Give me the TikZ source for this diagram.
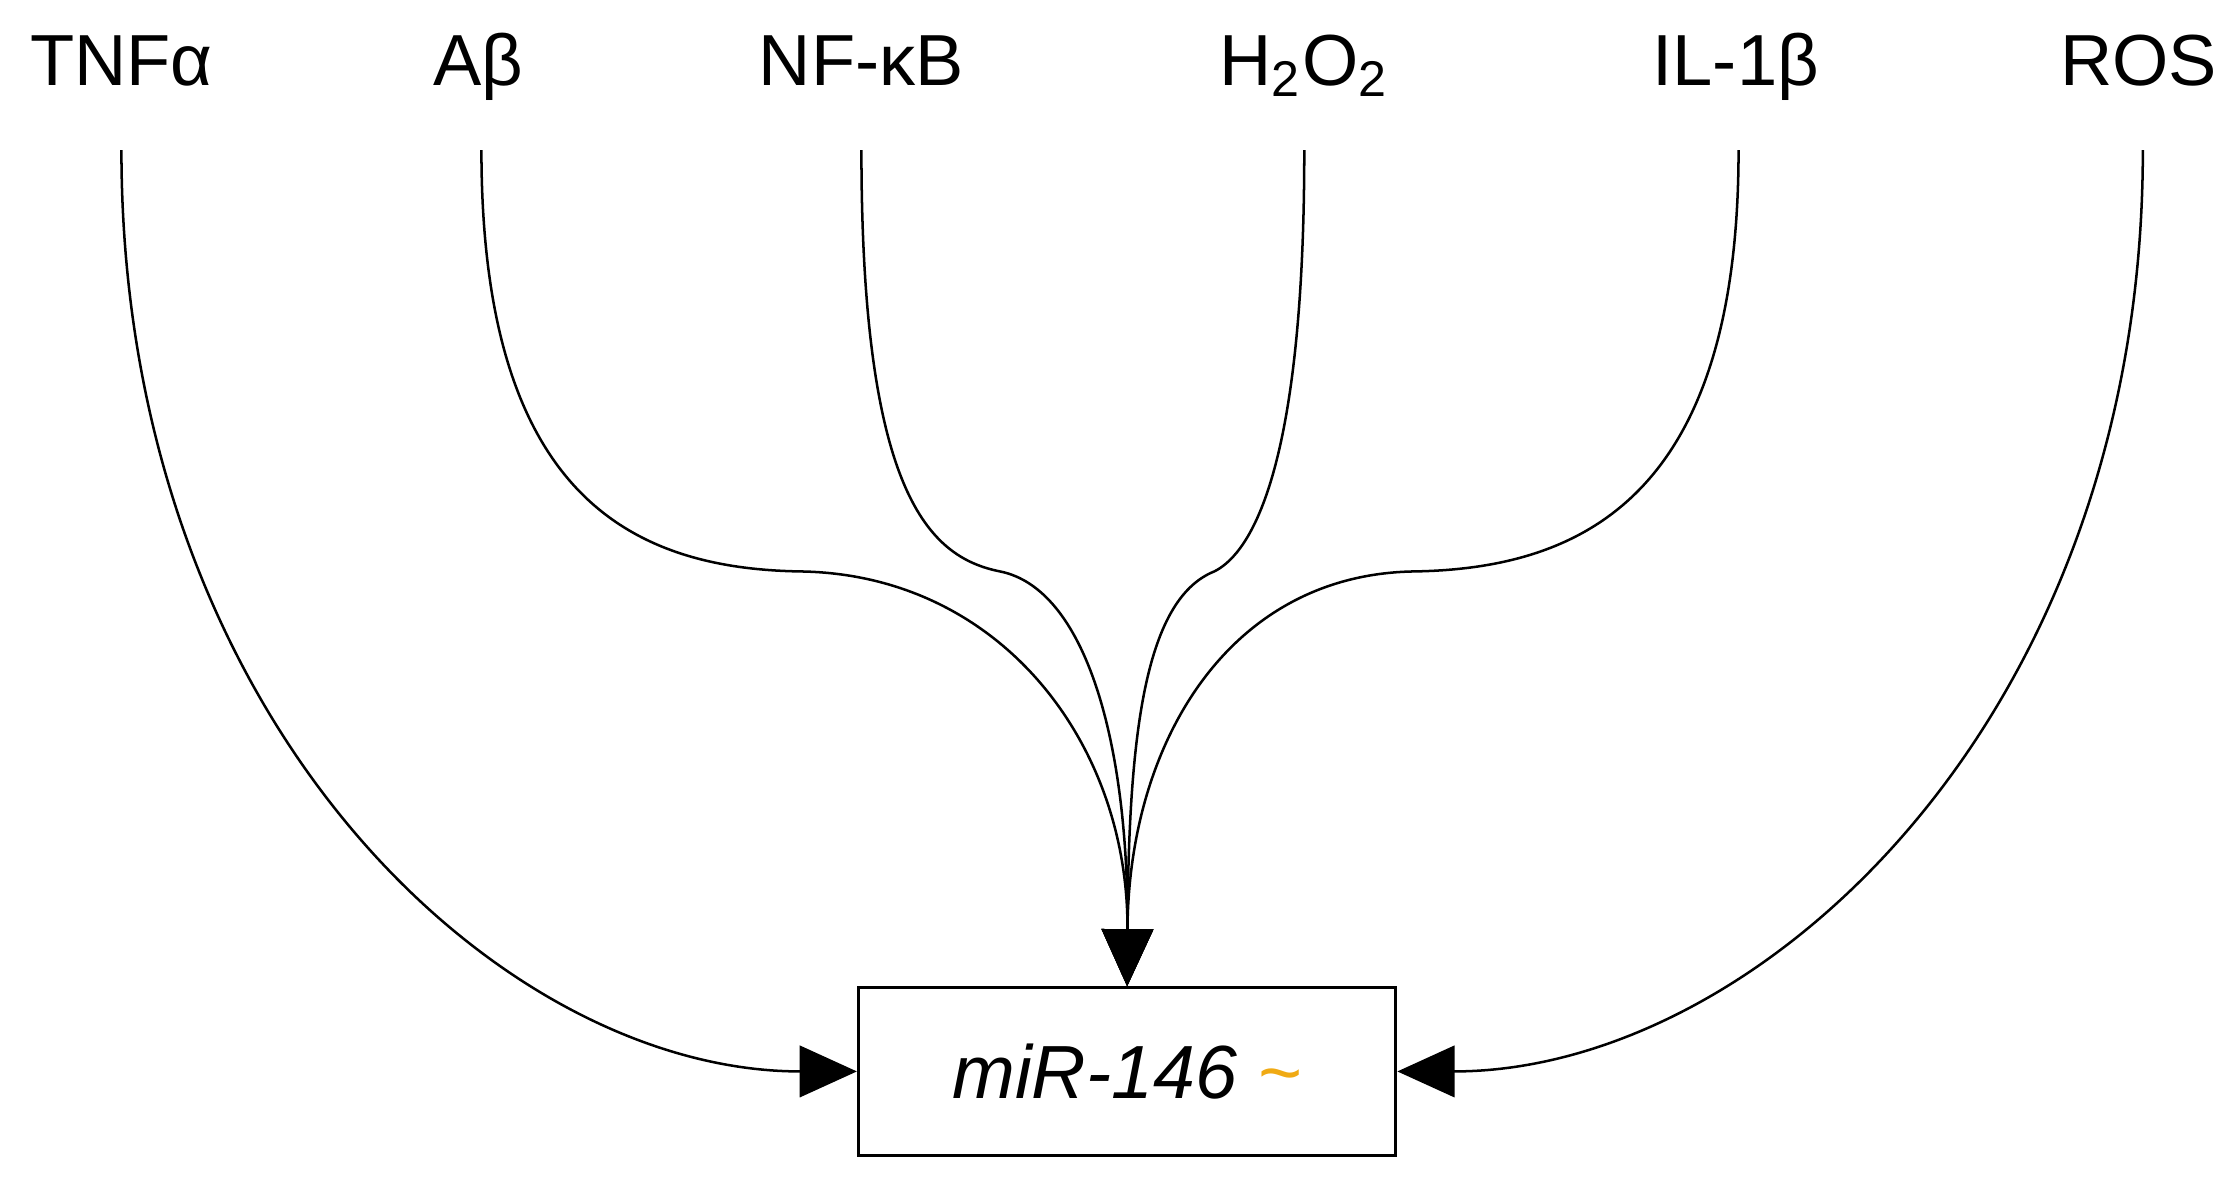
\documentclass[tikz,border=0pt]{standalone}
\usepackage{fontspec}
\setmainfont{Liberation Sans}
\usetikzlibrary{arrows.meta,calc}
\definecolor{tildeor}{RGB}{240,170,20}
\begin{document}
\begin{tikzpicture}[x=0.01cm,y=-0.01cm,
  lab/.style={font=\fontsize{14.4pt}{16pt}\selectfont,inner sep=0pt,anchor=base},
  con/.style={line width=0.5pt,-{Triangle[length=4mm,width=3.6mm]}}]
\useasboundingbox (0,0) rectangle (1568,830);
\node[lab] (tnf) at (85,60) {TNFα};
\node[lab] (ab) at (335,60) {Aβ};
\node[lab] (nfkb) at (603,60) {NF-κB};
\node[lab] (h2o2) at (913,60) {H\textsubscript{2}O\textsubscript{2}};
\node[lab] (il) at (1215,60) {IL-1β};
\node[lab] (ros) at (1497,60) {ROS};
\node[draw,line width=0.6pt,minimum width=3.76cm,minimum height=1.17cm,inner sep=0pt,
  font=\fontsize{15pt}{17pt}\selectfont] (mir) at (789,750) {\itshape miR-146 \textcolor{tildeor}{\textasciitilde}};
\coordinate (top) at (mir.north);
\draw[con] ($(tnf.base)+(0,45)$) .. controls +(0,400) and (350,750) .. (mir.west);
\draw[con] ($(ros.base)+(3,45)$) .. controls +(0,400) and (1230,750) .. (mir.east);
\draw[con] ($(ab.base)+(2,45)$) .. controls +(0,240) and (440,398) .. (560,400) .. controls (700,402) and (790,520) .. (top);
\draw[con] ($(nfkb.base)+(0,45)$) .. controls +(0,240) and (650,390) .. (700,400) .. controls (760,412) and (790,520) .. (top);
\draw[con] ($(h2o2.base)+(0,45)$) .. controls +(0,240) and (870,390) .. (850,400) .. controls (800,420) and (790,520) .. (top);
\draw[con] ($(il.base)+(2,45)$) .. controls +(0,240) and (1110,398) .. (990,400) .. controls (860,402) and (790,520) .. (top);
\end{tikzpicture}
\end{document}
